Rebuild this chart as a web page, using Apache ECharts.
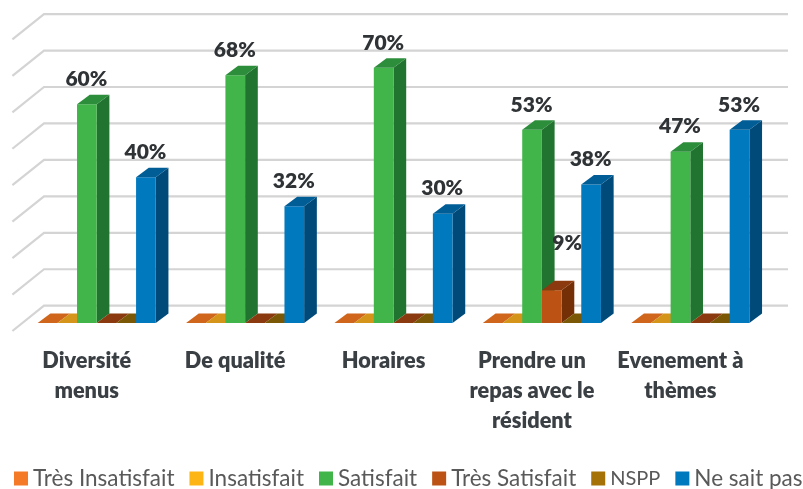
<!DOCTYPE html>
<html>
<head>
<meta charset="utf-8">
<script src="https://cdn.jsdelivr.net/npm/echarts@6/dist/echarts.min.js"></script>
<style>
  html, body { margin: 0; padding: 0; background: #fff; }
  #chart { width: 803px; height: 489px; }
</style>
</head>
<body>
<div id="chart"></div>
<script>
const categories = ['Diversité\nmenus', 'De qualité', 'Horaires', 'Prendre un\nrepas avec le\nrésident', 'Evenement à\nthèmes']
const tresInsatisfait = [0, 0, 0, 0, 0]
const insatisfait = [0, 0, 0, 0, 0]
const satisfait = [60, 68, 70, 53, 47]
const tresSatisfait = [0, 0, 0, 9, 0]
const nspp = [0, 0, 0, 0, 0]
const neSaitPas = [40, 32, 30, 38, 53]
const valueTicks = [0, 10, 20, 30, 40, 50, 60, 70, 80]

// front, top and side shade of each series
const shades = [
  ['#F47A27', '#D0651C', '#A04E14'],
  ['#FDB515', '#D4951A', '#A07010'],
  ['#41B54A', '#2C8D3B', '#217430'],
  ['#BC5315', '#8A3A0E', '#752F06'],
  ['#A57208', '#7B5805', '#5E4304'],
  ['#0079BF', '#005D96', '#004A7A']
]

const BAR_DEPTH = [12.7, -9.5]
const WALL_FRONT = [-10.1, 8]
const WALL_BACK = [21.5, -17.3]
const BAR_RATIO = 7.54

function poly(points, color) {
  return {type: 'polygon', shape: {points: points}, style: {fill: color}}
}

function bar3d(seriesIndex, colors) {
  return function (params, api) {
    const cat = api.value(0)
    const val = api.value(1)
    const base = api.coord([cat, 0])
    const top = api.coord([cat, val])
    const w = api.size([1, 0])[0] / BAR_RATIO
    const x0 = base[0] + (seriesIndex - 3) * w
    const x1 = x0 + w
    const dx = BAR_DEPTH[0]
    const dy = BAR_DEPTH[1]
    const children = []
    if (val > 0) {
      children.push(poly([[x1, base[1]], [x1 + dx, base[1] + dy], [x1 + dx, top[1] + dy], [x1, top[1]]], colors[2]))
      children.push(poly([[x0, base[1]], [x1, base[1]], [x1, top[1]], [x0, top[1]]], colors[0]))
    }
    children.push(poly([[x0, top[1]], [x1, top[1]], [x1 + dx, top[1] + dy], [x0 + dx, top[1] + dy]], colors[1]))
    if (val > 0) {
      // 9% label sits off to the right of its bar in the original
      const small = val < 10
      children.push({
        type: 'text',
        z2: 10,
        style: {
          text: val + '%',
          x: (x0 + x1) / 2 + (small ? 15.5 : -0.5),
          y: top[1] - (small ? 47 : 25),
          align: 'center',
          verticalAlign: 'middle',
          fill: '#2f3336',
          font: '800 21px Lato'
        }
      })
    }
    return {type: 'group', children: children}
  }
}

function wallLine(params, api) {
  const y = api.coord([0, api.value(1)])[1]
  const cs = params.coordSys
  return {
    type: 'polyline',
    shape: {
      points: [
        [cs.x + WALL_FRONT[0], y + WALL_FRONT[1]],
        [cs.x + WALL_BACK[0], y + WALL_BACK[1]],
        [cs.x + cs.width + WALL_BACK[0] + 2, y + WALL_BACK[1]]
      ]
    },
    style: {stroke: '#D4D4D4', lineWidth: 2.2, fill: 'none'}
  }
}

function barSeries(name, values, i) {
  return {
    name: name,
    type: 'custom',
    clip: false,
    itemStyle: {color: shades[i][0]},
    renderItem: bar3d(i, shades[i]),
    encode: {x: 0, y: 1},
    data: values.map((v, k) => [k, v]),
    z: 3 + i
  }
}

const names = ['Très Insatisfait', 'Insatisfait', 'Satisfait', 'Très Satisfait', 'NSPP', 'Ne sait pas']
const allValues = [tresInsatisfait, insatisfait, satisfait, tresSatisfait, nspp, neSaitPas]

const myCharts = echarts.init(document.getElementById('chart'))
myCharts.setOption({
  animation: false,
  backgroundColor: '#fff',
  grid: {left: 22.5, top: 31.4, width: 742, height: 291.6},
  legend: {
    data: names,
    left: 14,
    top: 467,
    padding: 0,
    width: 830,
    icon: 'rect',
    itemWidth: 14,
    itemHeight: 14,
    itemGap: 15,
    // capitals run wide in Lato, NSPP needs a smaller size to stay in step
    formatter: n => n === 'NSPP' ? '{caps|NSPP}' : n,
    textStyle: {
      color: '#595959',
      fontSize: 22.5,
      fontFamily: 'Lato',
      rich: {caps: {color: '#595959', fontSize: 20, fontFamily: 'Lato'}}
    }
  },
  xAxis: {
    type: 'category',
    data: categories,
    axisLine: {show: false},
    axisTick: {show: false},
    axisLabel: {
      interval: 0,
      margin: 23,
      padding: [0, 20, 0, 0],
      color: '#3a3f44',
      fontSize: 21.7,
      fontWeight: 800,
      fontFamily: 'Lato',
      lineHeight: 30
    }
  },
  yAxis: {type: 'value', min: 0, max: 80, interval: 10, show: false},
  series: [
    {
      name: 'wall',
      type: 'custom',
      clip: false,
      silent: true,
      renderItem: wallLine,
      encode: {y: 1},
      data: valueTicks.map(v => [0, v]),
      z: 1
    }
  ].concat(names.map((n, i) => barSeries(n, allValues[i], i)))
})
</script>
</body>
</html>
